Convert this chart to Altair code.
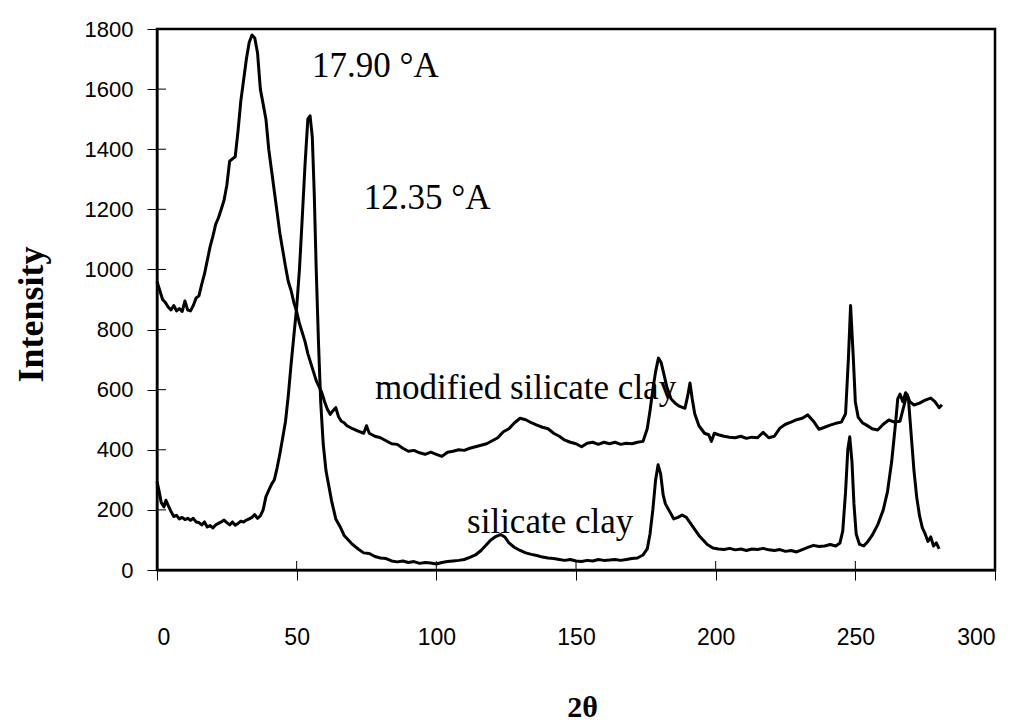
import altair as alt
import pandas as pd

# modified silicate clay (upper curve)
mod_x = [0, 1, 2, 3, 4, 5, 6, 7, 8, 9, 10, 11, 12, 13, 14, 15, 16, 17, 18, 19, 20, 21, 22, 23, 24, 25,
         26, 27, 28, 29, 30, 31, 32, 33, 34, 35, 36, 37, 38, 39, 40, 41, 42, 43, 44, 45, 46, 47, 48, 49,
         50, 51, 52, 53, 54, 55, 56, 57, 58, 59, 60, 61, 62, 63, 64, 65, 66, 67, 68, 69, 70, 72, 74, 75,
         76, 78, 80, 82, 84, 86, 88, 90, 92, 94, 96, 98, 100, 102, 104, 106, 108, 110, 112, 114, 116, 118,
         120, 122, 124, 126, 128, 130, 132, 134, 136, 138, 140, 142, 144, 146, 148, 150, 152, 154, 156,
         158, 160, 162, 164, 166, 168, 170, 172, 174, 175.5, 176.5, 177.5, 178.5, 179.5, 180.5, 181.5,
         182.5, 184, 185.5, 187, 189, 190, 190.8, 191.6, 192.5, 194, 196, 197.5, 198.5, 199.5, 201, 203,
         205, 207, 209, 211, 213, 215, 217, 219, 221, 223, 225, 227, 229, 231, 233, 235, 237, 239, 241,
         243, 245, 246.5, 247.5, 248.3, 249.2, 250, 251, 252.5, 254, 256, 258, 260, 262, 264, 266, 267.5,
         268.5, 269.5, 271, 273, 275, 277, 278.5, 280, 281]
mod_y = [960, 930, 900, 890, 875, 865, 880, 862, 870, 860, 895, 865, 862, 880, 905, 912, 950, 985, 1030,
         1075, 1110, 1150, 1172, 1200, 1230, 1280, 1360, 1368, 1375, 1460, 1560, 1630, 1700, 1755, 1780,
         1770, 1720, 1600, 1550, 1500, 1400, 1330, 1260, 1190, 1120, 1065, 1010, 960, 930, 890, 860, 820,
         790, 760, 720, 690, 660, 630, 610, 590, 560, 535, 518, 530, 540, 510, 495, 490, 480, 475, 470,
         462, 455, 480, 455, 445, 440, 430, 420, 418, 405, 395, 398, 390, 385, 392, 385, 378, 392, 395,
         400, 398, 405, 410, 415, 420, 430, 440, 460, 470, 490, 505, 500, 490, 482, 475, 470, 455, 445,
         432, 425, 420, 410, 422, 425, 418, 425, 420, 425, 418, 422, 420, 425, 428, 470, 530, 600, 660,
         705, 690, 650, 610, 570, 555, 545, 538, 580, 622, 570, 520, 480, 455, 450, 428, 455, 450, 445,
         442, 440, 445, 438, 442, 440, 458, 440, 445, 472, 485, 492, 500, 505, 516, 495, 468, 475, 482,
         488, 492, 520, 700, 880, 720, 560, 509, 490, 482, 470, 466, 485, 499, 492, 495, 550, 585, 560,
         549, 555, 565, 572, 560, 540, 550]

# silicate clay (lower curve)
sil_x = [0, 0.8, 1.5, 2.5, 3.2, 4, 5, 6, 7, 8, 9, 10, 11, 12, 13, 14, 15, 16, 17, 18, 19, 20, 21, 22, 23,
         24, 25, 26, 27, 28, 29, 30, 31, 32, 33, 34, 35, 36, 37, 38, 39, 40, 41, 42, 43, 44, 45, 46, 47,
         48, 49, 50, 51, 52, 53, 54, 54.8, 55.6, 56.3, 57, 57.8, 58.6, 59.5, 60.5, 61.5, 62.5, 64, 65.5,
         67, 68.5, 70, 72, 74, 76, 78, 80, 82, 84, 86, 88, 90, 92, 94, 96, 98, 100, 102, 104, 106, 108,
         110, 112, 114, 116, 118, 119.5, 121, 123, 124.5, 126, 128, 130, 132, 134, 136, 138, 140, 142,
         144, 146, 148, 150, 152, 154, 156, 158, 160, 162, 164, 166, 168, 170, 172, 174, 175.5, 176.5,
         177.5, 178.5, 179.4, 180.3, 181.2, 182, 183.5, 185, 186.5, 188, 189.5, 191, 192.5, 194, 195.5,
         197, 199, 201, 203, 205, 207, 209, 211, 213, 215, 217, 219, 221, 223, 225, 227, 229, 231, 233,
         235, 237, 239, 241, 243, 244.5, 245.5, 246.5, 247.3, 248, 248.8, 249.5, 250.3, 251.5, 253, 254.5,
         256, 258, 260, 261.5, 263, 264.2, 265.2, 266, 267, 268, 269, 270, 271, 272, 273, 274, 275, 276,
         277, 278, 279, 280]
sil_y = [295, 260, 225, 210, 232, 215, 195, 178, 182, 170, 175, 168, 172, 165, 172, 160, 158, 150, 160,
         143, 148, 140, 150, 155, 160, 166, 158, 150, 160, 149, 155, 162, 160, 166, 170, 175, 184, 172,
         180, 200, 244, 265, 285, 300, 340, 387, 440, 494, 580, 684, 780, 874, 1000, 1172, 1350, 1500,
         1511, 1440, 1250, 1000, 760, 560, 420, 330, 280, 230, 170, 145, 115, 100, 85, 70, 57, 55, 45, 40,
         38, 30, 27, 30, 25, 28, 22, 25, 23, 20, 25, 28, 30, 32, 35, 42, 50, 65, 85, 100, 110, 118, 110,
         90, 75, 65, 57, 52, 48, 43, 40, 38, 35, 32, 35, 30, 28, 32, 30, 35, 32, 33, 35, 32, 35, 38, 40,
         50, 70, 120, 200, 300, 350, 320, 250, 220, 195, 170, 175, 183, 175, 155, 135, 115, 100, 85, 73,
         70, 68, 72, 67, 70, 65, 70, 68, 72, 67, 65, 68, 62, 65, 60, 68, 75, 82, 78, 80, 85, 80, 90, 130,
         260, 400, 443, 360, 220, 120, 85, 80, 95, 115, 150, 200, 260, 360, 470, 570, 585, 560, 590, 570,
         450, 330, 240, 180, 140, 120, 95, 110, 80, 90, 70]

# annotations
ann_text = ["17.90 °A", "12.35 °A", "modified silicate clay", "silicate clay"]
ann_x = [55.5, 74, 78, 111]
ann_y = [1640, 1200, 570, 123]

x_ticks = [0, 50, 100, 150, 200, 250, 300]
y_ticks = [0, 200, 400, 600, 800, 1000, 1200, 1400, 1600, 1800]

W, H = 838, 541

df = pd.concat([
    pd.DataFrame({"x": mod_x, "y": mod_y, "s": "modified silicate clay", "o": range(len(mod_x))}),
    pd.DataFrame({"x": sil_x, "y": sil_y, "s": "silicate clay", "o": range(len(sil_x))}),
])
ann = pd.DataFrame({"x": ann_x, "y": ann_y, "t": ann_text})

xs = alt.Scale(domain=[0, 300], nice=False)
ys = alt.Scale(domain=[0, 1800], nice=False)

lines = alt.Chart(df).mark_line(color="black", strokeWidth=3, strokeJoin="round").encode(
    x=alt.X("x:Q", scale=xs, axis=alt.Axis(
        values=x_ticks, title="2θ", grid=False, tickSize=10, tickColor="black", tickWidth=1,
        domainColor="black", domainWidth=2, labelFont="Liberation Sans", labelFontSize=23,
        labelColor="black", labelPadding=46, titleFont="Liberation Serif", titleFontSize=30,
        titleFontWeight="bold", titleColor="black", titleX=425, titleY=137, titleBaseline="middle")),
    y=alt.Y("y:Q", scale=ys, axis=alt.Axis(
        values=y_ticks, format="d", title="Intensity", grid=False, tickSize=10, tickColor="black",
        tickWidth=1, domainColor="black", domainWidth=2, labelFont="Liberation Sans", labelFontSize=22,
        labelColor="black", labelPadding=14, titleFont="Liberation Serif", titleFontSize=36,
        titleFontWeight="bold", titleColor="black", titleX=-126, titleY=285,
        titleBaseline="middle", titleAlign="center")),
    detail="s:N",
    order="o:Q",
)

text = alt.Chart(ann).mark_text(font="Liberation Serif", fontSize=35, align="left",
                                baseline="alphabetic", color="black").encode(
    x=alt.X("x:Q", scale=xs), y=alt.Y("y:Q", scale=ys), text="t:N")

ytick_df = pd.DataFrame({"v": y_ticks})
xtick_df = pd.DataFrame({"v": x_ticks})
yin = alt.Chart(ytick_df).mark_rule(color="black", strokeWidth=1).encode(
    y=alt.Y("v:Q", scale=ys), x=alt.value(0), x2=alt.value(9))
xin = alt.Chart(xtick_df).mark_rule(color="black", strokeWidth=1).encode(
    x=alt.X("v:Q", scale=xs), y=alt.value(H - 9), y2=alt.value(H))

chart = alt.layer(lines, yin, xin, text).properties(
    width=W, height=H,
    autosize=alt.AutoSizeParams(type="none"),
    padding={"left": 157, "top": 29, "right": 23, "bottom": 156},
    background="white",
).configure_view(stroke="black", strokeWidth=2.5)

chart.save("out.html", embed_options={"renderer": "svg", "actions": False})
